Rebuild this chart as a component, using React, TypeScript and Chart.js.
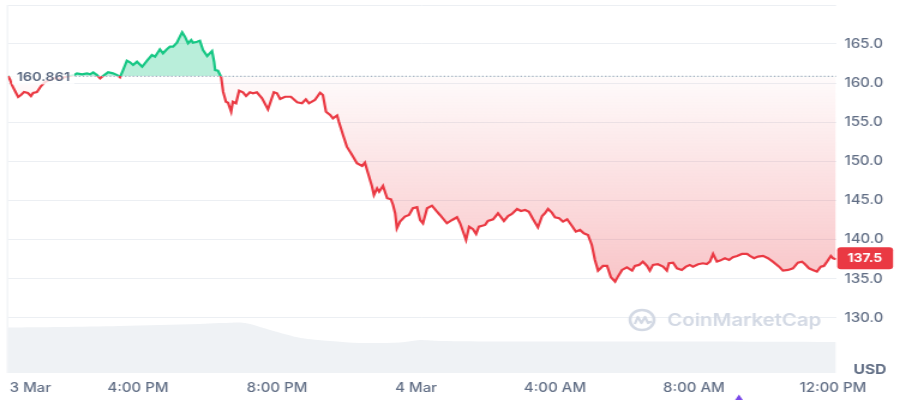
import React, { useEffect, useRef } from 'react';
import { Chart, registerables } from 'chart.js';

Chart.register(...registerables);

// ---------- data ----------
const BASELINE = 160.861;
const CURRENCY = 'USD';
const WATERMARK = 'CoinMarketCap';

// hours since 3 Mar 00:00
const priceTimes = [
  12.26, 12.32, 12.37, 12.46, 12.55, 12.63, 12.72, 12.83, 12.92, 12.98,
  13.09, 13.21, 13.32, 13.47, 13.61, 13.76, 13.9, 14.04, 14.16, 14.24,
  14.39, 14.53, 14.62, 14.71, 14.82, 14.91, 14.99, 15.14, 15.28, 15.4,
  15.48, 15.57, 15.68, 15.77, 15.86, 15.97, 16.12, 16.26, 16.4, 16.49,
  16.63, 16.72, 16.83, 16.92, 17.01, 17.12, 17.18, 17.27, 17.35, 17.44,
  17.53, 17.58, 17.7, 17.78, 17.87, 17.99, 18.13, 18.19, 18.22, 18.3,
  18.39, 18.45, 18.53, 18.59, 18.68, 18.73, 18.82, 18.91, 19.02, 19.11,
  19.22, 19.31, 19.42, 19.57, 19.74, 19.91, 20.0, 20.09, 20.23, 20.4,
  20.58, 20.72, 20.83, 20.92, 21.09, 21.24, 21.32, 21.41, 21.53, 21.61,
  21.73, 21.78, 21.9, 22.01, 22.16, 22.3, 22.45, 22.53, 22.62, 22.73,
  22.79, 22.88, 22.94, 23.05, 23.17, 23.28, 23.34, 23.4, 23.45, 23.54,
  23.68, 23.8, 23.91, 24.03, 24.12, 24.2, 24.32, 24.46, 24.58, 24.69,
  24.89, 25.04, 25.18, 25.27, 25.44, 25.53, 25.64, 25.73, 25.81, 25.99,
  26.07, 26.22, 26.36, 26.53, 26.65, 26.76, 26.91, 27.02, 27.14, 27.25,
  27.37, 27.51, 27.63, 27.71, 27.8, 27.91, 28.0, 28.12, 28.23, 28.35,
  28.49, 28.6, 28.72, 28.83, 28.95, 29.06, 29.15, 29.24, 29.38, 29.5,
  29.61, 29.73, 29.81, 29.93, 30.07, 30.22, 30.3, 30.42, 30.53, 30.65,
  30.73, 30.82, 30.96, 31.11, 31.22, 31.28, 31.4, 31.51, 31.65, 31.77,
  31.88, 31.97, 32.12, 32.26, 32.37, 32.46, 32.55, 32.66, 32.75, 32.89,
  33.01, 33.12, 33.24, 33.38, 33.53, 33.61, 33.73, 33.84, 33.99, 34.13,
  34.27, 34.45, 34.56, 34.71, 34.85, 34.99, 35.11, 35.19, 35.31, 35.42,
  35.54, 35.65, 35.74, 35.83, 35.94, 36.0, 36.09,
];

const prices = [
  160.91, 160.4, 159.76, 158.99, 158.22, 158.48, 158.86, 158.74, 158.35, 158.74,
  158.86, 159.63, 160.14, 160.4, 160.65, 160.52, 160.78, 160.91, 161.03, 161.25,
  161.12, 161.25, 161.12, 161.38, 161.03, 160.61, 160.91, 161.38, 161.25, 161.03,
  160.74, 161.67, 162.86, 162.66, 162.31, 162.73, 162.09, 162.86, 163.59, 163.37,
  164.32, 163.81, 164.32, 164.65, 164.65, 165.16, 165.72, 166.49, 165.93, 165.08,
  165.51, 165.16, 165.29, 165.42, 164.23, 163.46, 164.1, 162.73, 161.67, 161.58,
  160.82, 158.9, 157.62, 157.5, 156.35, 157.62, 157.42, 159.03, 158.83, 158.35,
  158.83, 158.7, 158.83, 158.06, 156.65, 158.83, 158.7, 157.97, 158.26, 158.26,
  157.55, 157.42, 157.93, 157.42, 157.84, 158.77, 158.48, 156.35, 155.93, 155.5,
  155.86, 155.07, 153.37, 151.88, 150.82, 149.76, 149.41, 149.83, 148.48, 146.86,
  145.71, 146.56, 146.13, 146.86, 145.29, 145.16, 144.43, 143.37, 141.45, 142.3,
  142.94, 143.15, 144.01, 144.14, 142.51, 142.09, 144.01, 144.34, 143.7, 143.15,
  142.09, 142.51, 142.86, 142.09, 139.96, 141.66, 141.33, 140.73, 141.66, 141.88,
  142.39, 142.6, 143.37, 142.39, 143.02, 143.28, 143.92, 143.66, 143.79, 143.57,
  142.6, 141.58, 143.02, 143.37, 143.92, 143.45, 142.86, 142.73, 142.3, 142.6,
  141.75, 141.02, 141.24, 140.81, 140.6, 139.32, 137.4, 136.04, 136.64, 136.64,
  135.19, 134.63, 135.27, 136.13, 136.47, 136.04, 136.64, 136.77, 137.19, 136.64,
  136.04, 136.77, 136.86, 136.55, 136.04, 136.98, 137.06, 136.34, 136.13, 136.55,
  136.77, 136.55, 136.86, 136.98, 136.89, 137.19, 138.17, 137.19, 137.32, 137.62,
  137.4, 137.75, 137.92, 138.17, 138.17, 137.92, 137.62, 137.83, 137.92, 137.62,
  137.19, 136.55, 136.04, 136.13, 136.34, 137.06, 137.19, 136.89, 136.34, 136.13,
  135.91, 136.55, 136.64, 137.19, 137.92, 137.62, 137.5,
];

// trading volume (M USD per interval)
const volumeTimes = [12.26, 13.76, 15.48, 17.78, 18.94, 19.22, 19.8, 20.69, 21.53, 22.39, 23.54, 24.12, 24.69, 26.42, 29.3, 32.17, 36.09];
const volumes = [455, 460, 470, 490, 505, 490, 430, 350, 320, 300, 305, 330, 320, 315, 315, 315, 310];
const VOLUME_AXIS_MAX = 3680;

const yTickValues = [130, 135, 140, 145, 150, 155, 160, 165];
const xTickHours = [12.9, 16, 20, 24, 28, 32, 36];
const xTickLabels = ['3 Mar', '4:00 PM', '8:00 PM', '4 Mar', '4:00 AM', '8:00 AM', '12:00 PM'];

// ---------- styles ----------
const GREEN = '#16c784';
const RED = '#ea3943';
const GRID = '#eceff3';
const LABEL = '#616e85';
const FONT = 'Inter';
const CANVAS_W = 750; // drawn narrower and stretched to 900px wide, like the reference
const CANVAS_H = 400;

const decor = {
  id: 'decor',
  beforeDatasetsDraw(chart: any) {
    const { ctx, chartArea: a } = chart;
    ctx.save();
    ctx.strokeStyle = GRID;
    ctx.lineWidth = 1;
    ctx.beginPath();
    ctx.moveTo(a.left, a.top + 0.5);
    ctx.lineTo(a.right, a.top + 0.5);
    ctx.moveTo(a.left - 0.5, a.top);
    ctx.lineTo(a.left - 0.5, a.bottom);
    ctx.stroke();

    // watermark
    const cx = 535, cy = 320;
    ctx.strokeStyle = '#d3d9e4';
    ctx.lineWidth = 2.6;
    ctx.beginPath();
    ctx.arc(cx, cy, 10, 0, Math.PI * 2);
    ctx.stroke();
    ctx.lineWidth = 2.2;
    ctx.lineJoin = 'round';
    ctx.beginPath();
    ctx.moveTo(cx - 6, cy + 4);
    ctx.lineTo(cx - 3.5, cy - 3);
    ctx.lineTo(cx - 0.5, cy + 3);
    ctx.lineTo(cx + 2.5, cy - 3);
    ctx.lineTo(cx + 5, cy + 3);
    ctx.lineTo(cx + 8, cy + 1.5);
    ctx.stroke();
    ctx.fillStyle = '#d3d9e4';
    ctx.font = `600 17px ${FONT}`;
    ctx.textAlign = 'left';
    ctx.textBaseline = 'middle';
    ctx.fillText(WATERMARK, 556, 321);
    ctx.restore();
  },
  afterDatasetsDraw(chart: any) {
    const { ctx, chartArea: a, scales } = chart;
    const by = scales.y.getPixelForValue(BASELINE);
    ctx.save();
    // dotted baseline
    ctx.strokeStyle = '#a7b0c2';
    ctx.lineWidth = 1.3;
    ctx.setLineDash([1.3, 1.9]);
    ctx.beginPath();
    ctx.moveTo(62.5, by);
    ctx.lineTo(a.right, by);
    ctx.stroke();
    ctx.setLineDash([]);

    // baseline label
    ctx.fillStyle = 'rgba(255,255,255,0.8)';
    ctx.fillRect(10, by - 7, 52, 15);
    ctx.fillStyle = '#58667e';
    ctx.font = `600 12px ${FONT}`;
    ctx.textAlign = 'left';
    ctx.textBaseline = 'middle';
    ctx.fillText(BASELINE.toFixed(3), 14, by + 1);

    // last price label
    const last = prices[prices.length - 1];
    const ly = scales.y.getPixelForValue(last) - 1;
    ctx.fillStyle = RED;
    ctx.beginPath();
    (ctx as any).roundRect(a.right + 1, ly - 11, 46.5, 22, 3);
    ctx.fill();
    ctx.fillStyle = '#ffffff';
    ctx.font = `700 11.5px ${FONT}`;
    ctx.textAlign = 'center';
    ctx.fillText(last.toFixed(1), a.right + 24, ly + 0.5);

    // currency label
    ctx.fillStyle = LABEL;
    ctx.font = `700 13px ${FONT}`;
    ctx.fillText(CURRENCY, 725, 370);

    // event marker
    ctx.fillStyle = '#7a48e8';
    ctx.beginPath();
    ctx.moveTo(615.8, 394.5);
    ctx.lineTo(612, 401);
    ctx.lineTo(619.6, 401);
    ctx.closePath();
    ctx.fill();
    ctx.restore();
  },
};

export default function App() {
  const ref = useRef<HTMLCanvasElement>(null);

  useEffect(() => {
    const canvas = ref.current;
    if (!canvas) return;
    const chart = new Chart(canvas, {
      type: 'line',
      data: {
        datasets: [
          {
            label: 'Price',
            data: priceTimes.map((t, i) => ({ x: t, y: prices[i] })),
            yAxisID: 'y',
            borderColor: RED,
            borderWidth: 2.2,
            pointRadius: 0,
            tension: 0,
            order: 0,
            fill: {
              target: { value: BASELINE },
              above: 'rgba(22,199,132,0.3)',
              below: 'rgba(234,57,67,0.12)',
            },
          } as any,
          {
            label: 'Volume',
            data: volumeTimes.map((t, i) => ({ x: t, y: volumes[i] })),
            yAxisID: 'yv',
            borderWidth: 0,
            borderColor: 'rgba(0,0,0,0)',
            backgroundColor: '#eff2f5',
            pointRadius: 0,
            tension: 0.3,
            order: 1,
            fill: 'origin',
          },
        ],
      },
      options: {
        responsive: false,
        animation: false,
        events: [],
        layout: { padding: { left: 6.7, top: 5, right: 0, bottom: 0 } },
        plugins: { legend: { display: false }, tooltip: { enabled: false } },
        scales: {
          x: {
            type: 'linear',
            min: 12.26,
            max: 36.09,
            grid: { display: false },
            border: { display: false },
            afterBuildTicks: (s: any) => {
              s.ticks = xTickHours.map((v) => ({ value: v }));
            },
            afterFit: (s: any) => {
              s.height = 27;
              s.paddingLeft = 0;
              s.paddingRight = 0;
            },
            ticks: {
              autoSkip: false,
              maxRotation: 0,
              minRotation: 0,
              padding: 0,
              color: LABEL,
              font: { family: FONT, size: 12.5, weight: 500 as any },
              callback: (_v: any, i: number) => xTickLabels[i],
            },
          },
          y: {
            position: 'right',
            min: 122.96,
            max: 169.98,
            grid: { color: GRID, drawTicks: false },
            border: { display: false },
            afterBuildTicks: (s: any) => {
              s.ticks = yTickValues.map((v) => ({ value: v }));
            },
            afterFit: (s: any) => {
              s.width = 53.3;
              s.paddingTop = 0;
              s.paddingBottom = 0;
            },
            ticks: {
              padding: 7,
              color: LABEL,
              font: { family: FONT, size: 12.5, weight: 500 as any },
              callback: (v: any) => Number(v).toFixed(1),
            },
          },
          yv: {
            display: false,
            min: 0,
            max: VOLUME_AXIS_MAX,
          },
        },
      },
      plugins: [decor],
    });

    // second pass: colour split at the baseline, gradient fill below it
    const a = chart.chartArea;
    const ys = chart.scales.y;
    const by = ys.getPixelForValue(BASELINE);
    const ctx = chart.ctx;
    const f = Math.min(1, Math.max(0, (by - a.top) / (a.bottom - a.top)));
    const lg = ctx.createLinearGradient(0, a.top, 0, a.bottom);
    lg.addColorStop(0, GREEN);
    lg.addColorStop(f, GREEN);
    lg.addColorStop(f, RED);
    lg.addColorStop(1, RED);
    const fg = ctx.createLinearGradient(0, by, 0, ys.getPixelForValue(133.5));
    fg.addColorStop(0, 'rgba(234,57,67,0.02)');
    fg.addColorStop(1, 'rgba(234,57,67,0.3)');
    const ds: any = chart.data.datasets[0];
    ds.borderColor = lg;
    ds.fill = { target: { value: BASELINE }, above: 'rgba(22,199,132,0.3)', below: fg };
    chart.update();

    return () => chart.destroy();
  }, []);

  return (
    <div style={{ position: 'fixed', left: 0, top: 0, width: 900, height: 400, background: '#fff' }}>
      <canvas
        ref={ref}
        width={CANVAS_W}
        height={CANVAS_H}
        style={{ display: 'block', width: '900px', height: '400px' }}
      />
    </div>
  );
}
